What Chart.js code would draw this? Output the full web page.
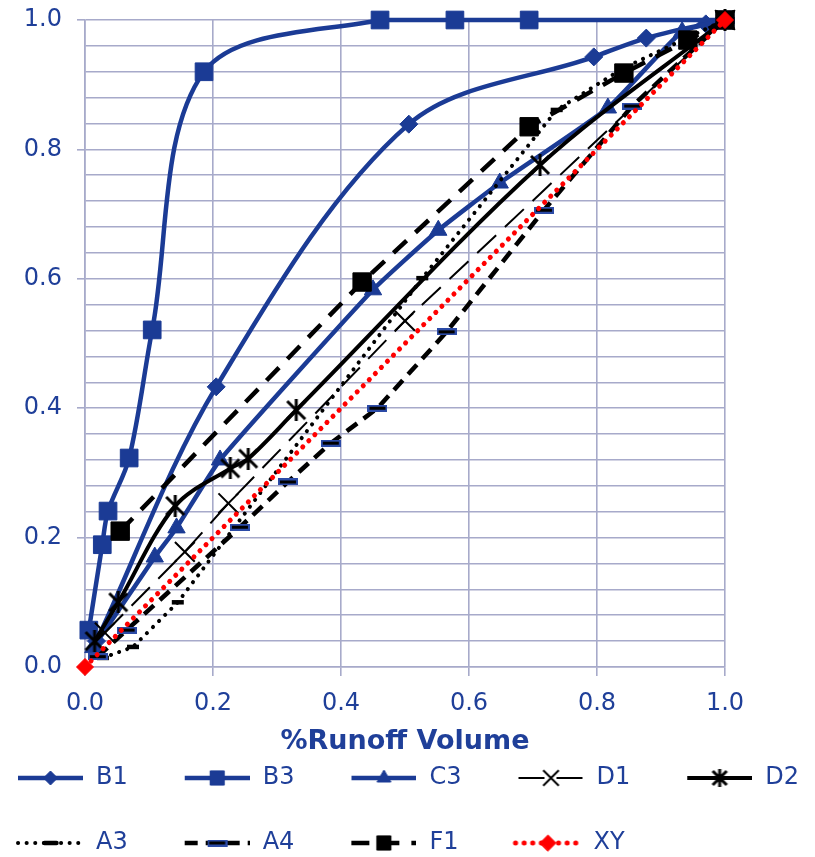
<!DOCTYPE html>
<html><head><meta charset="utf-8">
<script src="https://cdn.jsdelivr.net/npm/chart.js@4/dist/chart.umd.min.js"></script>
<style>html,body{margin:0;padding:0;background:#fff}canvas{display:block}</style>
</head><body>
<canvas id="c" width="815" height="857"></canvas>
<script>
// ---- data ----
const seriesNames = ['B1','B3','C3','D1','D2','A3','A4','F1','XY'];
const b1X = [0.018, 0.205, 0.506, 0.795, 0.877, 0.97, 1.0];
const b1Y = [0.040, 0.433, 0.839, 0.943, 0.972, 0.994, 1.0];
const b3X = [0.006, 0.027, 0.036, 0.069, 0.105, 0.186, 0.461, 0.578, 0.694, 1.0];
const b3Y = [0.057, 0.189, 0.241, 0.323, 0.521, 0.920, 1.0, 1.0, 1.0, 1.0];
const c3X = [0.013, 0.109, 0.143, 0.211, 0.450, 0.552, 0.648, 0.817, 0.933, 1.0];
const c3Y = [0.030, 0.170, 0.215, 0.320, 0.583, 0.675, 0.748, 0.864, 0.982, 1.0];
const d1X = [0.031, 0.156, 0.224, 0.500, 1.0];
const d1Y = [0.053, 0.178, 0.253, 0.535, 1.0];
const d2X = [0.015, 0.052, 0.141, 0.227, 0.255, 0.330, 0.711, 1.0];
const d2Y = [0.040, 0.100, 0.249, 0.307, 0.322, 0.397, 0.776, 1.0];
const a3X = [0.028, 0.075, 0.145, 0.527, 0.737, 0.840, 1.0];
const a3Y = [0.014, 0.031, 0.100, 0.601, 0.861, 0.925, 1.0];
const a4X = [0.020, 0.065, 0.242, 0.317, 0.384, 0.457, 0.565, 0.717, 0.855, 1.0];
const a4Y = [0.016, 0.057, 0.216, 0.286, 0.346, 0.400, 0.518, 0.706, 0.867, 1.0];
const f1X = [0.055, 0.433, 0.694, 0.842, 0.942, 1.0];
const f1Y = [0.210, 0.595, 0.835, 0.918, 0.969, 1.0];
const xyX = [0.0, 1.0];
const xyY = [0.0, 1.0];
const xTickLabels = ['0.0','0.2','0.4','0.6','0.8','1.0'];
const yTickLabels = ['0.0','0.2','0.4','0.6','0.8','1.0'];
const xAxisTitle = '%Runoff Volume';

// ---- styles ----
const BLUE = '#1b3b95';
const TXT = '#1f3f99';
const GRID = '#a7aaca';
const FONT = "'DejaVu Sans', Verdana, sans-serif";

function pts(xs, ys){ return xs.map((x,i)=>({x:x, y:ys[i]})); }

function makeAsterisk(size, lw){
  const c=document.createElement('canvas'); c.width=size; c.height=size;
  const g=c.getContext('2d'); g.strokeStyle='#000'; g.lineWidth=lw;
  const m=lw/2+0.5;
  g.beginPath();
  g.moveTo(m,m); g.lineTo(size-m,size-m);
  g.moveTo(size-m,m); g.lineTo(m,size-m);
  g.moveTo(size/2,0); g.lineTo(size/2,size);
  g.stroke();
  return c;
}
function makeA4Marker(w,h){
  const c=document.createElement('canvas'); c.width=w; c.height=h;
  const g=c.getContext('2d');
  g.fillStyle='#2b4aa6'; g.fillRect(0,0,w,h);
  g.fillStyle='#000'; g.fillRect(2,2,w-4,h-4);
  return c;
}
const asterisk = makeAsterisk(22,3);
const asteriskSmall = makeAsterisk(18,3);
const a4Marker = makeA4Marker(20,7);

const styleSpecs = [
  {color:BLUE, width:4.5, dash:[], cap:'butt', tension:0.33, ps:'rectRot', r:9, fill:BLUE, bw:1, lr:7},
  {color:BLUE, width:4.5, dash:[], cap:'butt', tension:0.33, ps:'rect', r:12.5, fill:BLUE, bw:1, lr:10},
  {color:BLUE, width:4.5, dash:[], cap:'butt', tension:0.15, ps:'triangle', r:10, fill:BLUE, bw:1, lr:8},
  {color:'#000', width:2, dash:[26,12], cap:'butt', tension:0, ps:'crossRot', r:14, fill:'#000', bw:2, lr:11},
  {color:'#000', width:4, dash:[], cap:'butt', tension:0.33, ps:asterisk, r:11, fill:'#000', bw:0, lps:asteriskSmall},
  {color:'#000', width:4, dash:[0.1,8.5], cap:'round', tension:0, ps:'line', r:6, fill:'#000', bw:4.5, lr:6},
  {color:'#000', width:4.5, dash:[13,8], cap:'butt', tension:0, ps:a4Marker, r:10, fill:'#000', bw:0},
  {color:'#000', width:4.5, dash:[18,12], cap:'butt', tension:0, ps:'rect', r:13, fill:'#000', bw:1, lr:10},
  {color:'#ff0000', width:5, dash:[0.1,8.5], cap:'round', tension:0, ps:'rectRot', r:8.5, fill:'#ff0000', bw:1, lr:8}
];
const seriesData = [pts(b1X,b1Y), pts(b3X,b3Y), pts(c3X,c3Y), pts(d1X,d1Y), pts(d2X,d2Y),
                    pts(a3X,a3Y), pts(a4X,a4Y), pts(f1X,f1Y), pts(xyX,xyY)];

function drawMarker(g, s, x, y, r, psOverride){
  const ps = psOverride || s.ps;
  g.save();
  g.fillStyle = s.fill; g.strokeStyle = s.fill; g.lineWidth = s.bw; g.setLineDash([]);
  if (typeof ps === 'object') { g.drawImage(ps, x-ps.width/2, y-ps.height/2); }
  else { Chart.helpers.drawPoint(g, {pointStyle: ps, radius: r, rotation: 0, borderWidth: s.bw}, x, y); }
  g.restore();
}
// legend icons: line sample + marker
const ICON_W = 80, ICON_H = 28;
const legendIcons = styleSpecs.map(s => {
  const c=document.createElement('canvas'); c.width=ICON_W; c.height=ICON_H;
  const g=c.getContext('2d');
  g.strokeStyle=s.color; g.lineWidth=s.width; g.lineCap=s.cap; g.setLineDash(s.dash);
  g.beginPath(); g.moveTo(15,ICON_H/2); g.lineTo(80,ICON_H/2); g.stroke();
  drawMarker(g, s, 47.5, ICON_H/2, s.lr || s.r, s.lps);
  return c;
});

const datasets = seriesNames.map((name,i) => {
  const s = styleSpecs[i];
  return {
    label: name, data: seriesData[i], order: seriesNames.length - i,
    borderColor: s.color, backgroundColor: s.fill, borderWidth: s.width,
    borderDash: s.dash, borderCapStyle: s.cap, tension: s.tension, fill: false,
    pointStyle: s.ps, pointRadius: s.r, pointBackgroundColor: s.fill,
    pointBorderColor: s.fill, pointBorderWidth: s.bw, clip: false
  };
});

function isMajor(v){ return Math.abs(v*5 - Math.round(v*5)) < 1e-6; }

const legendPlacer = {
  id: 'legendPlacer',
  afterLayout(chart){
    const lg = chart.legend; if (!lg) return;
    lg.left = -39; lg.right = 900; lg.top = 725; lg.bottom = 870;
    lg.width = lg.right - lg.left; lg.height = lg.bottom - lg.top;
  }
};

new Chart(document.getElementById('c'), {
  type: 'line',
  data: { datasets },
  plugins: [legendPlacer],
  options: {
    responsive: false, animation: false, devicePixelRatio: 1, events: [],
    layout: { padding: { top: 20, right: 90, bottom: 0, left: 0 } },
    scales: {
      x: {
        type: 'linear', min: 0, max: 1,
        afterFit: (sc) => { sc.height = 60; sc.paddingLeft = 0; sc.paddingRight = 0; },
        ticks: { stepSize: 0.2, autoSkip: false, maxRotation: 0, padding: 13, color: TXT,
                 font: { family: FONT, size: 24 },
                 callback: (v) => xTickLabels[Math.round(v*5)] },
        grid: { color: GRID, lineWidth: 1.6, tickLength: 9, tickColor: GRID },
        border: { color: GRID, width: 1.6 },
        title: { display: true, text: xAxisTitle, color: TXT,
                 font: { family: FONT, size: 27, weight: 'bold' }, padding: { top: 0, bottom: -31 } }
      },
      y: {
        type: 'linear', min: 0, max: 1,
        afterFit: (sc) => { sc.width = 85; sc.paddingTop = 0; sc.paddingBottom = 0; },
        ticks: { stepSize: 0.04, autoSkip: false, padding: 15, color: TXT,
                 font: { family: FONT, size: 24 },
                 callback: (v) => isMajor(v) ? yTickLabels[Math.round(v*5)] : '' },
        grid: { color: GRID, lineWidth: 1.6, tickLength: 8,
                tickColor: (ctx) => (ctx.tick && isMajor(ctx.tick.value)) ? GRID : 'rgba(0,0,0,0)' },
        border: { color: GRID, width: 1.6 }
      }
    },
    plugins: {
      tooltip: { enabled: false },
      legend: {
        display: true, position: 'bottom', align: 'start', maxHeight: 130,
        labels: {
          usePointStyle: true, pointStyleWidth: 82, padding: 41, color: TXT,
          font: { family: FONT, size: 24 },
          generateLabels: (chart) => chart.data.datasets.map((ds, i) => ({
            text: ds.label, pointStyle: legendIcons[i], fillStyle: 'rgba(0,0,0,0)',
            strokeStyle: 'rgba(0,0,0,0)', lineWidth: 0, hidden: false, datasetIndex: i,
            fontColor: TXT
          }))
        }
      }
    }
  }
});
</script>
</body></html>
